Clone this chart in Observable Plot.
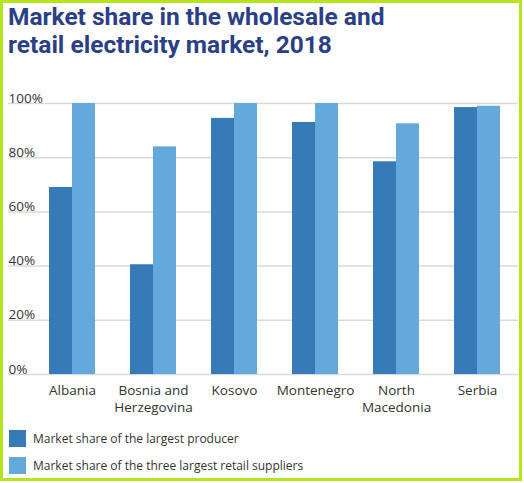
<!DOCTYPE html>
<html>
<head>
<meta charset="utf-8">
<script src="https://cdn.jsdelivr.net/npm/d3@7"></script>
<script src="https://cdn.jsdelivr.net/npm/@observablehq/plot@0.6"></script>
<style>
  body { margin: 0; background: #fff; font-family: "Open Sans", sans-serif; }
  #page { position: relative; width: 524px; height: 483px; overflow: hidden; }
  #border { position: absolute; left: 0; top: 0; width: 522px; height: 481px; box-sizing: border-box; border: 3px solid #b5e61d; }
  #title { position: absolute; left: 8px; top: 3px; font-family: Roboto, sans-serif; font-weight: 700; font-size: 24.5px; line-height: 28px; color: #2b3f86; }
  #chart { position: absolute; left: 0; top: 70px; }
  .key { position: absolute; left: 9px; width: 17px; height: 17px; }
  .keytext { position: absolute; left: 33px; font-size: 12px; color: #333; line-height: 17px; }
</style>
</head>
<body>
<div id="page">
  <div id="border"></div>
  <div id="title">Market share in the wholesale and<br>retail electricity market, 2018</div>
  <div id="chart"></div>
  <div class="key" style="top:430px;background:#377ab8"></div>
  <div class="keytext" style="top:430px">Market share of the largest producer</div>
  <div class="key" style="top:457px;background:#63a9db"></div>
  <div class="keytext" style="top:457px">Market share of the three largest retail suppliers</div>
</div>
<script>
const countries = ["Albania", "Bosnia and Herzegovina", "Kosovo", "Montenegro", "North Macedonia", "Serbia"];
const countryLabels = ["Albania", "Bosnia and\nHerzegovina", "Kosovo", "Montenegro", "North\nMacedonia", "Serbia"];
const largestProducer = [0.69, 0.405, 0.945, 0.93, 0.785, 0.985];
const threeLargestRetail = [1.0, 0.84, 1.0, 1.0, 0.925, 0.99];
const yTicks = [0, 0.2, 0.4, 0.6, 0.8, 1];
const yTickLabels = ["0%", "20%", "40%", "60%", "80%", "100%"];

const rows = countries.map((c, i) => ({country: c, producer: largestProducer[i], retail: threeLargestRetail[i]}));
const ticks = yTicks.map((v, i) => ({v, label: yTickLabels[i]}));
const labelOf = new Map(countries.map((c, i) => [c, countryLabels[i]]));

const chart = Plot.plot({
  width: 524,
  height: 350,
  marginTop: 33,
  marginBottom: 46,
  marginLeft: 8,
  marginRight: 6,
  style: {fontFamily: "Open Sans", fontSize: "13.5px", color: "#333", background: "transparent"},
  x: {domain: countries, insetLeft: 23, paddingInner: 0.43, paddingOuter: 0.215, label: null},
  y: {domain: [0, 1], axis: null},
  marks: [
    Plot.ruleY(yTicks, {stroke: "#d9d9d9", strokeWidth: 1.5}),
    Plot.text(ticks, {y: "v", text: "label", frameAnchor: "left", textAnchor: "start", lineAnchor: "bottom", dy: -1, fontSize: 13.5, fill: "#333"}),
    Plot.barY(rows, {x: "country", y: "producer", fill: "#377ab8", insetRight: 23}),
    Plot.barY(rows, {x: "country", y: "retail", fill: "#63a9db", insetLeft: 23}),
    Plot.axisX({tickSize: 0, tickPadding: 8, lineHeight: 1.27, fontSize: 13.5, tickFormat: d => labelOf.get(d), label: null, fill: "#333"})
  ]
});
d3.select('#chart').append(() => chart);
</script>
</body>
</html>
